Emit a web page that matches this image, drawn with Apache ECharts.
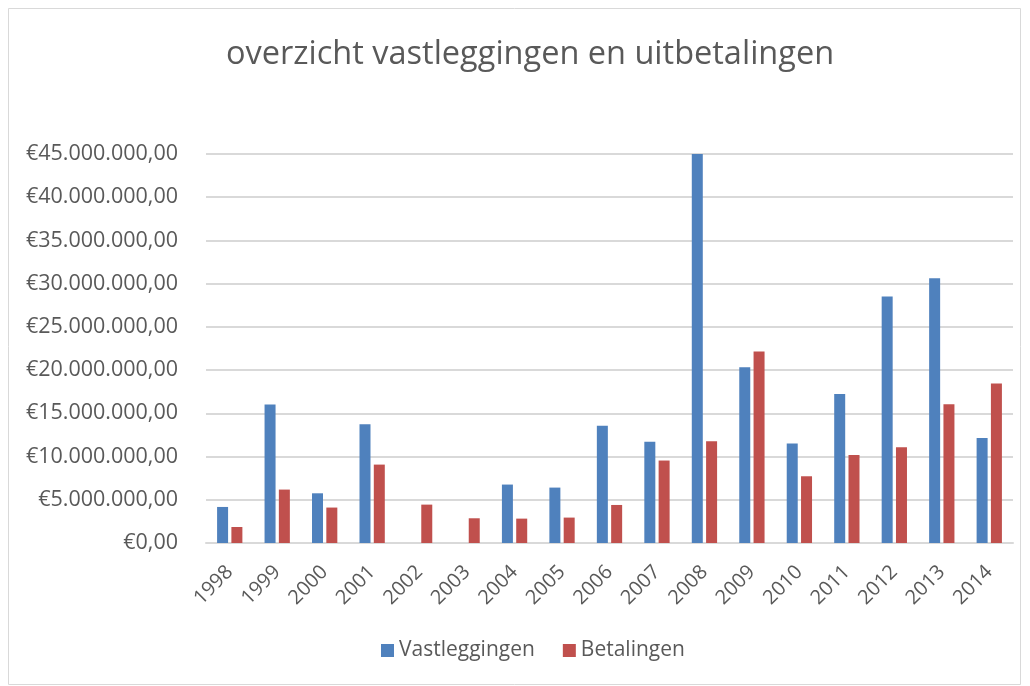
<!DOCTYPE html>
<html><head><meta charset="utf-8">
<script src="https://cdn.jsdelivr.net/npm/echarts@6/dist/echarts.min.js"></script>
<style>html,body{margin:0;padding:0;background:#fff}#c{width:1030px;height:686px}</style>
</head><body><div id="c"></div>
<script>
const years = ['1998','1999','2000','2001','2002','2003','2004','2005','2006','2007','2008','2009','2010','2011','2012','2013','2014'];
const vastleggingen = [4170000,16020000,5750000,13740000,0,0,6760000,6410000,13550000,11700000,45000000,20340000,11500000,17250000,28520000,30640000,12160000];
const betalingen = [1850000,6180000,4100000,9070000,4440000,2860000,2820000,2940000,4400000,9540000,11770000,22150000,7720000,10190000,11080000,16060000,18450000];
const seriesNames = ['Vastleggingen','Betalingen'];
const titleText = 'overzicht vastleggingen en uitbetalingen';

function fmt(v){
  const s = Math.round(v).toString().replace(/\B(?=(\d{3})+(?!\d))/g,'.');
  return '€' + s + ',00';
}
const font = 'Open Sans';
const chart = echarts.init(document.getElementById('c'));
chart.setOption({
  backgroundColor:'#fff',
  animation:false,
  title:{text:titleText,left:221,top:33,textStyle:{fontFamily:font,fontWeight:'normal',fontSize:32.5,color:'#595959'}},
  graphic:[{type:'rect',shape:{x:8.5,y:8.5,width:1012,height:676},style:{fill:'none',stroke:'#d9d9d9',lineWidth:1}}],
  legend:{bottom:20,left:376,itemWidth:13,itemHeight:13,itemGap:28,icon:'rect',
    textStyle:{fontFamily:font,fontSize:21,color:'#595959'},data:seriesNames},
  grid:{left:206,right:17,top:154,bottom:143},
  xAxis:{type:'category',data:years,
    axisLine:{lineStyle:{color:'#d9d9d9',width:2}},axisTick:{show:false},
    axisLabel:{rotate:45,fontFamily:font,fontSize:20,color:'#595959',margin:26}},
  yAxis:{type:'value',min:0,max:45000000,interval:5000000,
    axisLine:{show:false},axisTick:{show:false},
    splitLine:{lineStyle:{color:'#d9d9d9',width:2}},
    axisLabel:{formatter:fmt,fontFamily:font,fontSize:21.5,color:'#595959',margin:28}},
  series:[
    {name:seriesNames[0],type:'bar',data:vastleggingen,barWidth:11,barGap:'30%',itemStyle:{color:'#4f81bd'}},
    {name:seriesNames[1],type:'bar',data:betalingen,barWidth:11,itemStyle:{color:'#c0504d'}}
  ]
});
</script></body></html>
